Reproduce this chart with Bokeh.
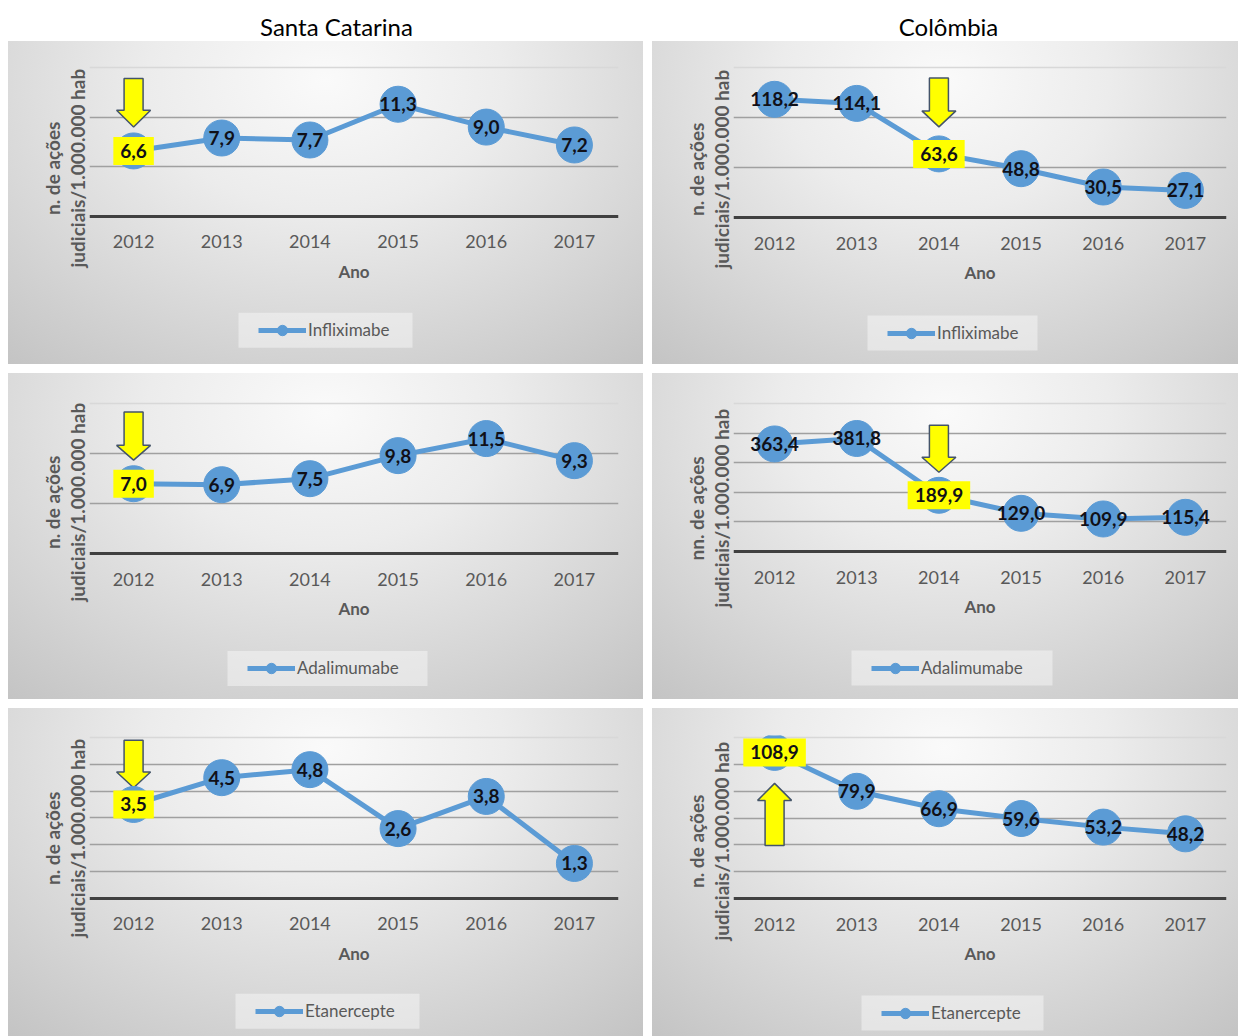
from bokeh.plotting import figure
from bokeh.layouts import column, row
from bokeh.models import (ColumnDataSource, FixedTicker, Range1d, Legend, LegendItem, Label,
                          Grid, Title)
from bokeh.core.properties import value
from bokeh.embed import file_html
from bokeh.resources import INLINE

# ---------------- data ----------------
years = [2012, 2013, 2014, 2015, 2016, 2017]
year_labels = ["2012", "2013", "2014", "2015", "2016", "2017"]

sc_infliximabe = [6.6, 7.9, 7.7, 11.3, 9.0, 7.2]
sc_adalimumabe = [7.0, 6.9, 7.5, 9.8, 11.5, 9.3]
sc_etanercepte = [3.5, 4.5, 4.8, 2.6, 3.8, 1.3]

co_infliximabe = [118.2, 114.1, 63.6, 48.8, 30.5, 27.1]
co_adalimumabe = [363.4, 381.8, 189.9, 129.0, 109.9, 115.4]
co_etanercepte = [108.9, 79.9, 66.9, 59.6, 53.2, 48.2]

column_titles = ["Santa Catarina", "Colômbia"]
drug_names = ["Infliximabe", "Adalimumabe", "Etanercepte"]
x_title = "Ano"
y_title_lines = ["n. de ações", "judiciais/1.000.000 hab"]
y_title_lines_co_adal = ["nn. de ações", "judiciais/1.000.000 hab"]

sc_y_max = [15, 15, 6]
sc_y_step = [5, 5, 1]
co_y_max = [150, 500, 120]
co_y_step = [50, 100, 20]

sc_highlight = [0, 0, 0]          # index of the highlighted (yellow) value
co_highlight = [2, 2, 0]
sc_arrow_dir = ["down", "down", "down"]
co_arrow_dir = ["down", "down", "up"]

# ---------------- style / layout ----------------
FONT = "Lato"
BLUE = "#5b9bd5"
GRAY_TXT = "#595959"
GRADIENT = ("radial-gradient(ellipse 80% 115% at 50% 12%, #fafafa 0%, #ececec 35%, "
            "#d6d6d6 70%, #c3c3c3 100%)")
YLAB_SIZE = 19
# approximate rendered lengths (px) of the y title lines at YLAB_SIZE, used to centre them
YLAB_LEN = {"n. de ações": 93, "nn. de ações": 104, "judiciais/1.000.000 hab": 198}
LEG_BOX_H = 35
LEG_ITEM_H = 26

# page-pixel geometry of every panel
GEOM = {
    ("sc", 0): dict(box=(8, 41, 635, 323), fx=(89, 618), top=65, zero=215, ylab=168,
                    leg=(238, 347, 174), arrow=(24, 17, 32)),
    ("co", 0): dict(box=(652, 41, 586, 323), fx=(733, 1226), top=67, zero=217, ylab=169,
                    leg=(867, 350, 170), arrow=(27, 16, 33)),
    ("sc", 1): dict(box=(8, 373, 635, 326), fx=(89, 618), top=398, zero=551, ylab=502,
                    leg=(227, 685, 200), arrow=(24, 15, 34)),
    ("co", 1): dict(box=(652, 373, 586, 326), fx=(733, 1226), top=403, zero=551, ylab=508,
                    leg=(851, 685, 201), arrow=(23, 15, 32)),
    ("sc", 2): dict(box=(8, 708, 635, 328), fx=(89, 618), top=733, zero=896, ylab=838,
                    leg=(235, 1028, 184), arrow=(17, 16, 32)),
    ("co", 2): dict(box=(652, 708, 586, 328), fx=(733, 1226), top=737, zero=898, ylab=841,
                    leg=(861, 1030, 182), arrow=(31, 17, 45)),
}
ROW_TOPS = [41, 373, 708]
TITLE_CENTER_X = [336, 948]


def fmt(v):
    return f"{v:.1f}".replace(".", ",")


def make_panel(vals, name, ylines, ymax, ystep, hl, direction, g, r):
    ox, oy, w, h = g["box"]
    fl, fr = g["fx"]
    top, zero = g["top"], g["zero"]
    bottom = oy + h - 2
    ppu = (zero - top) / ymax
    ppx = (fr - fl) / len(years)
    x0 = years[0] - 0.5
    pad = 2
    y_end = ymax + pad / ppu
    y_start = -(bottom - zero) / ppu

    p = figure(width=w, height=h, output_backend="svg", toolbar_location=None,
               x_range=Range1d(x0, years[-1] + 0.5),
               y_range=Range1d(y_start, y_end),
               min_border_left=fl - ox, min_border_right=ox + w - fr,
               min_border_top=top - pad - oy, min_border_bottom=oy + h - bottom)
    p.border_fill_color = None
    p.background_fill_color = None
    p.outline_line_color = None
    p.styles = {"background": GRADIENT}

    # grid
    p.xgrid.visible = False
    p.ygrid.ticker = FixedTicker(ticks=list(range(ystep, ymax, ystep)))
    p.ygrid.grid_line_color = "#a0a0a0"
    p.ygrid.grid_line_width = 1.5
    p.add_layout(Grid(dimension=1, ticker=FixedTicker(ticks=[ymax]),
                      grid_line_color="#d8d8d8", grid_line_width=1.5))

    # y axis: hidden ticks; its two-line title is drawn as two side titles
    ya = p.yaxis[0]
    ya.ticker = FixedTicker(ticks=[])
    ya.major_label_text_font_size = "0px"
    ya.major_label_standoff = 0
    ya.major_tick_out = 0
    ya.major_tick_in = 0
    ya.minor_tick_out = 0
    ya.minor_tick_in = 0
    ya.axis_line_color = None
    for line in reversed(ylines):      # first added sits closest to the frame
        off = bottom - g["ylab"] - YLAB_LEN[line] / 2
        p.add_layout(Title(text=line, align="left", offset=off, standoff=0,
                           vertical_align="middle", text_font=FONT,
                           text_font_style="bold", text_font_size=f"{YLAB_SIZE}px",
                           text_color=GRAY_TXT, text_line_height=0.85), "left")

    # x axis drawn at value 0
    xa = p.xaxis[0]
    xa.fixed_location = 0
    xa.ticker = FixedTicker(ticks=years)
    xa.major_label_overrides = {y: l for y, l in zip(years, year_labels)}
    xa.major_tick_out = 0
    xa.major_tick_in = 0
    xa.minor_tick_out = 0
    xa.minor_tick_in = 0
    xa.axis_line_color = "#404040"
    xa.axis_line_width = 3
    xa.major_label_standoff = 19
    xa.major_label_text_font = FONT
    xa.major_label_text_font_size = "18px"
    xa.major_label_text_color = GRAY_TXT
    xa.axis_label = x_title
    xa.axis_label_standoff = 9
    xa.axis_label_text_font = FONT
    xa.axis_label_text_font_style = "bold"
    xa.axis_label_text_font_size = "17px"
    xa.axis_label_text_color = GRAY_TXT

    # legend box (light panel behind the legend entry)
    lx, lb, lw = g["leg"]
    p.rect(x=[x0 + (lx + lw / 2 - fl) / ppx], y=[(zero - (lb - LEG_BOX_H / 2)) / ppu],
           width=[lw], height=[LEG_BOX_H], width_units="screen", height_units="screen",
           fill_color="#f7f7f7", fill_alpha=0.5, line_color=None)

    src = ColumnDataSource(dict(x=years, y=vals))
    line_r = p.line("x", "y", source=src, line_color=BLUE, line_width=5)

    # highlight arrow
    gap, head, shaft = g["arrow"]
    sw, hw = 9.5, 17
    sgn = 1 if direction == "down" else -1
    pts = [(0, gap), (hw, gap + head), (sw, gap + head), (sw, gap + head + shaft),
           (-sw, gap + head + shaft), (-sw, gap + head), (-hw, gap + head)]
    p.patch([years[hl] + dx / ppx for dx, dy in pts],
            [vals[hl] + sgn * dy / ppu for dx, dy in pts],
            fill_color="#ffff00", line_color="#44546a", line_width=1.5)

    sc_r = p.scatter("x", "y", source=src, size=36, fill_color=BLUE, line_color=BLUE)

    idx = [i for i in range(len(years)) if i != hl]
    tsrc = ColumnDataSource(dict(x=[years[i] for i in idx], y=[vals[i] for i in idx],
                                 t=[fmt(vals[i]) for i in idx]))
    p.text("x", "y", text="t", source=tsrc, text_align="center", text_baseline="middle",
           text_font=value(FONT), text_font_style="bold", text_font_size="19px",
           text_color="#101018")
    p.add_layout(Label(x=years[hl], y=vals[hl], text=fmt(vals[hl]), text_align="center",
                       text_baseline="middle", background_fill_color="#ffff00", padding=7,
                       text_font=FONT, text_font_style="bold", text_font_size="19px",
                       text_color="#101018"))

    # legend entry
    leg = Legend(items=[LegendItem(label=name, renderers=[line_r, sc_r])],
                 location=(lx + 20 - fl, bottom - (lb - (LEG_BOX_H - LEG_ITEM_H) / 2)),
                 orientation="horizontal", padding=0, margin=0, spacing=0,
                 glyph_width=48, glyph_height=LEG_ITEM_H, label_height=LEG_ITEM_H,
                 label_standoff=2, border_line_color=None, background_fill_alpha=0,
                 label_text_font=FONT, label_text_font_size="17px",
                 label_text_color=GRAY_TXT)
    p.add_layout(leg)

    prev_bottom = 41 if r == 0 else ROW_TOPS[r] - 9
    p.margin = (oy - prev_bottom, 0, 0, 8 if ox == 8 else 9)
    return p


sc_vals = [sc_infliximabe, sc_adalimumabe, sc_etanercepte]
co_vals = [co_infliximabe, co_adalimumabe, co_etanercepte]
co_ytitles = [y_title_lines, y_title_lines_co_adal, y_title_lines]

rows = []
for r in range(3):
    left = make_panel(sc_vals[r], drug_names[r], y_title_lines, sc_y_max[r], sc_y_step[r],
                      sc_highlight[r], sc_arrow_dir[r], GEOM[("sc", r)], r)
    right = make_panel(co_vals[r], drug_names[r], co_ytitles[r], co_y_max[r], co_y_step[r],
                       co_highlight[r], co_arrow_dir[r], GEOM[("co", r)], r)
    rows.append(row(left, right))

# column titles
tf = figure(width=1238, height=41, x_range=Range1d(0, 1238), y_range=Range1d(0, 41),
            output_backend="svg", toolbar_location=None, min_border=0)
tf.axis.visible = False
tf.grid.visible = False
tf.outline_line_color = None
tf.text(x=TITLE_CENTER_X, y=[15, 15], text=column_titles, text_align="center",
        text_baseline="middle", text_font=value(FONT), text_font_size="24px",
        text_color="#000000")

layout = column(tf, *rows)
open("out.html", "w").write(file_html(layout, INLINE))
